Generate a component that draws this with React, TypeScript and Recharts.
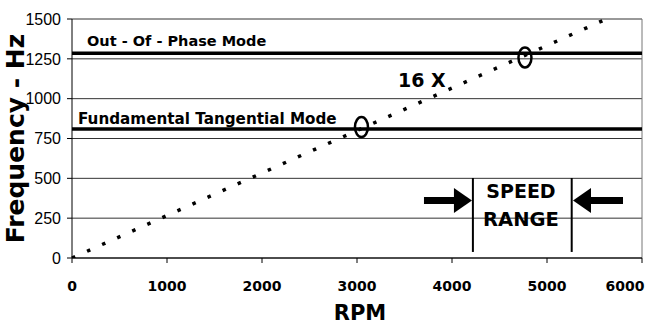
import { ComposedChart, Line, Scatter, XAxis, YAxis, CartesianGrid, ReferenceLine, ReferenceDot } from 'recharts';

// 16X excitation line: Hz = 16 * RPM / 60
const orderLine = [
  { rpm: 0, hz: 0 },
  { rpm: 5625, hz: 1500 },
];
// crossing points circled on the plot
const crossings = [
  { rpm: 3047, hz: 822 },
  { rpm: 4768, hz: 1259 },
];
const modeOutOfPhase = 1285;
const modeTangential = 810;
const speedRange = [4220, 5260];
const xTicks = [0, 1000, 2000, 3000, 4000, 5000, 6000];
const yTicks = [0, 250, 500, 750, 1000, 1250, 1500];

const BOLD = '"DejaVu Sans", Arial, sans-serif';

const XLabel = ({ viewBox }: any) => (
  <text x={viewBox.x + viewBox.width / 2 + 3} y={320} textAnchor="middle" fontFamily={BOLD} fontWeight="bold" fontSize={21} fill="#000">
    RPM
  </text>
);

const YLabel = ({ viewBox }: any) => {
  const cy = viewBox.y + viewBox.height / 2;
  return (
    <text x={24} y={cy} transform={`rotate(-90, 24, ${cy})`} textAnchor="middle" fontFamily={BOLD} fontWeight="bold" fontSize={25} fill="#000">
      Frequency - Hz
    </text>
  );
};

// last tick label sits a little left so it stays inside the frame
const XTick = ({ x, y, payload }: any) => (
  <text x={payload.value === 6000 ? x - 11 : x} y={y} dy="0.71em" textAnchor="middle" fontFamily={BOLD} fontWeight="bold" fontSize={14} fill="#000">
    {payload.value}
  </text>
);

const Ellipse = (props: any) => (
  <ellipse cx={props.cx} cy={props.cy} rx={6.5} ry={10} fill="none" stroke="#000" strokeWidth={2.5} />
);

const textAt = (label: string, size: number, anchor: string) => (props: any) => (
  <text x={props.cx} y={props.cy} textAnchor={anchor} fontFamily={BOLD} fontWeight="bold" fontSize={size} fill="#000">
    {label}
  </text>
);

const headRight = (props: any) => (
  <polygon points={`${props.cx},${props.cy} ${props.cx - 18},${props.cy - 12.5} ${props.cx - 18},${props.cy + 12.5}`} fill="#000" />
);
const headLeft = (props: any) => (
  <polygon points={`${props.cx},${props.cy} ${props.cx + 18},${props.cy - 12.5} ${props.cx + 18},${props.cy + 12.5}`} fill="#000" />
);

export default function App() {
  return (
    <div style={{ position: 'absolute', left: 0, top: 0, background: '#fff' }}>
      <ComposedChart width={652} height={326} margin={{ top: 19, right: 10, bottom: 0, left: 0 }}>
        <CartesianGrid vertical={false} stroke="#333" />
        <XAxis
          type="number"
          dataKey="rpm"
          domain={[0, 6000]}
          ticks={xTicks}
          height={68}
          tickSize={5}
          tickMargin={18}
          axisLine={{ stroke: '#000' }}
          tickLine={{ stroke: '#000' }}
          tick={<XTick />}
          label={<XLabel />}
        />
        <YAxis
          type="number"
          domain={[0, 1500]}
          ticks={yTicks}
          width={72}
          tickSize={5}
          tickMargin={6}
          allowDataOverflow
          axisLine={{ stroke: '#000' }}
          tickLine={{ stroke: '#000' }}
          tick={{ fill: '#000', fontFamily: '"Liberation Sans Narrow", "Liberation Sans", Arial', fontSize: 16 }}
          label={<YLabel />}
        />
        <ReferenceLine x={6000} stroke="#777" />
        <ReferenceLine y={modeOutOfPhase} stroke="#000" strokeWidth={3.5} />
        <ReferenceLine y={modeTangential} stroke="#000" strokeWidth={3.5} />
        <ReferenceLine segment={[{ x: speedRange[0], y: 38 }, { x: speedRange[0], y: 502 }]} stroke="#000" strokeWidth={2} />
        <ReferenceLine segment={[{ x: speedRange[1], y: 38 }, { x: speedRange[1], y: 502 }]} stroke="#000" strokeWidth={2} />
        <ReferenceLine segment={[{ x: 3705, y: 361 }, { x: 4040, y: 361 }]} stroke="#000" strokeWidth={7} />
        <ReferenceLine segment={[{ x: 5440, y: 361 }, { x: 5800, y: 361 }]} stroke="#000" strokeWidth={7} />
        <ReferenceDot x={4210} y={361} r={0} shape={headRight} />
        <ReferenceDot x={5274} y={361} r={0} shape={headLeft} />
        <Line
          data={orderLine}
          dataKey="hz"
          stroke="#000"
          strokeWidth={3.5}
          strokeDasharray="3.5 13"
          dot={false}
          isAnimationActive={false}
        />
        <Scatter data={crossings} dataKey="hz" shape={<Ellipse />} isAnimationActive={false} />
        <ReferenceDot x={158} y={1331} r={0} shape={textAt('Out - Of - Phase Mode', 14.5, 'start')} />
        <ReferenceDot x={63} y={841} r={0} shape={textAt('Fundamental Tangential Mode', 15.2, 'start')} />
        <ReferenceDot x={3432} y={1073} r={0} shape={textAt('16 X', 19, 'start')} />
        <ReferenceDot x={4726} y={377} r={0} shape={textAt('SPEED', 19, 'middle')} />
        <ReferenceDot x={4726} y={201} r={0} shape={textAt('RANGE', 19.5, 'middle')} />
      </ComposedChart>
    </div>
  );
}
